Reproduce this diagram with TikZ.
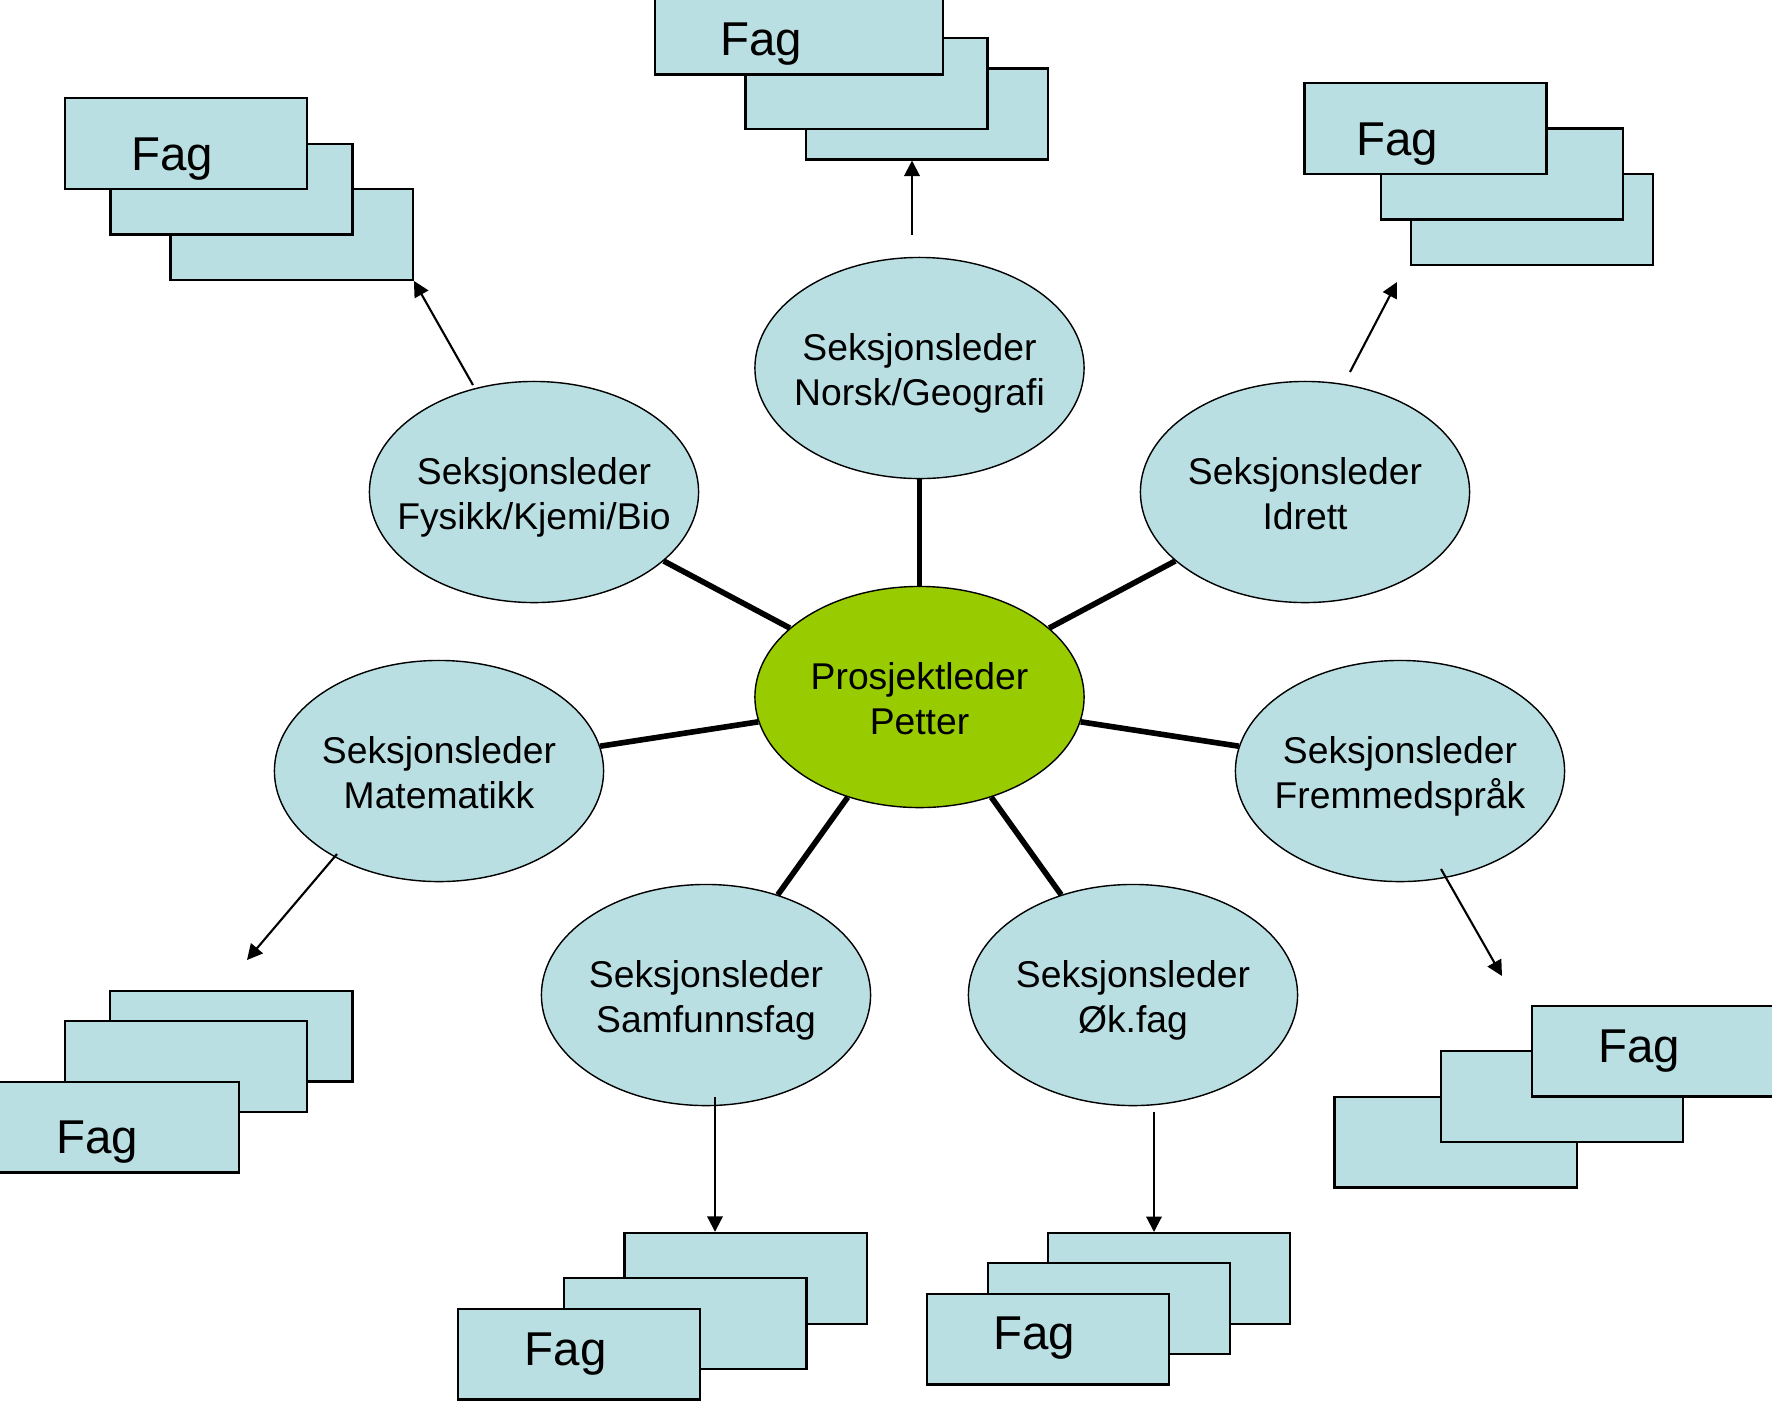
\documentclass[tikz,border=0pt]{standalone}
\usepackage{fontspec}
\setmainfont{Liberation Sans}
\usetikzlibrary{shapes.geometric, arrows.meta}
\definecolor{lyseblaa}{RGB}{186,223,227}
\definecolor{lysegronn}{RGB}{153,204,0}
\tikzset{
    leder/.style={
        ellipse, draw=black, line width=0.4pt,
        minimum width=3.29cm, minimum height=2.21cm,
        fill=lyseblaa, inner sep=0pt
    },
    ledertekst/.style={align=center, inner sep=0pt, yshift=-2.25pt,
        execute at end node={\strut}, font=\fontsize{10.6}{12.8}\selectfont},
    fagkort/.style={
        rectangle, draw=black, line width=0.65pt,
        minimum width=2.42cm, minimum height=0.907cm,
        fill=lyseblaa, inner sep=0pt
    },
    fagtekst/.style={anchor=base, inner sep=0pt, font=\fontsize{13.5}{16}\selectfont},
    eike/.style={draw=black, line width=1.6pt},
    pil/.style={draw=black, line width=0.6pt, -{Triangle[length=4.4pt, width=4.4pt]}}
}

\begin{document}
\begin{tikzpicture}[x=0.01cm, y=-0.01cm]
\useasboundingbox (0,0) rectangle (1772,1402);

% Prosjektleder
\node[leder, fill=lysegronn] (pl) at (919.5,697) {};
\node[ledertekst] (plt) at (pl) {Prosjektleder\\Petter};

% Seksjonsledere
\node[leder] (norsk) at (919.5,368) {};
\node[ledertekst] (norskt) at (norsk) {Seksjonsleder\\Norsk/Geografi};
\node[leder] (fys) at (534,492) {};
\node[ledertekst] (fyst) at (fys) {Seksjonsleder\\Fysikk/Kjemi/Bio};
\node[leder] (idr) at (1305,492) {};
\node[ledertekst] (idrt) at (idr) {Seksjonsleder\\Idrett};
\node[leder] (mat) at (439,771) {};
\node[ledertekst] (matt) at (mat) {Seksjonsleder\\Matematikk};
\node[leder] (frem) at (1400,771) {};
\node[ledertekst] (fremt) at (frem) {Seksjonsleder\\Fremmedspråk};
\node[leder] (samf) at (706,995) {};
\node[ledertekst] (samft) at (samf) {Seksjonsleder\\Samfunnsfag};
\node[leder] (ok) at (1133,995) {};
\node[ledertekst] (okt) at (ok) {Seksjonsleder\\Øk.fag};

\draw[eike] (pl) -- (norsk);
\draw[eike] (pl) -- (fys);
\draw[eike] (pl) -- (idr);
\draw[eike] (pl) -- (mat);
\draw[eike] (pl) -- (frem);
\draw[eike] (pl) -- (samf);
\draw[eike] (pl) -- (ok);

% Fag, oppe
\node[fagkort] (tb) at (927,114) {};
\node[fagkort] (tm) at (866.5,83.5) {};
\node[fagkort, minimum width=2.88cm] (tf) at (799,29) {};
\node[fagtekst] (tft) at (761,55) {Fag};

% Fag, oppe til venstre
\node[fagkort] (tlb) at (291.7,234.4) {};
\node[fagkort] (tlm) at (231.5,189.2) {};
\node[fagkort] (tlf) at (186,143.5) {};
\node[fagtekst] (tlft) at (172,170) {Fag};

% Fag, oppe til hoyre
\node[fagkort] (trb) at (1532,219.5) {};
\node[fagkort] (trm) at (1502,174) {};
\node[fagkort] (trf) at (1425.5,128.5) {};
\node[fagtekst] (trft) at (1397,155) {Fag};

% Fag, nede til venstre
\node[fagkort] (blb) at (231.3,1036.2) {};
\node[fagkort] (blm) at (185.8,1066.5) {};
\node[fagkort] (blf) at (118,1127) {};
\node[fagtekst] (blft) at (97,1153) {Fag};

% Fag, nede til hoyre
\node[fagkort] (brb) at (1455.7,1142) {};
\node[fagkort] (brm) at (1562,1096.7) {};
\node[fagkort] (brf) at (1653,1051) {};
\node[fagtekst] (brft) at (1639,1062) {Fag};

% Fag, samfunnsfag
\node[fagkort] (sb) at (745.7,1278.3) {};
\node[fagkort] (sm) at (685.3,1323.7) {};
\node[fagkort] (sf) at (579.2,1354) {};
\node[fagtekst] (sft) at (565.5,1365) {Fag};

% Fag, okonomi
\node[fagkort] (ob) at (1169,1278.5) {};
\node[fagkort] (om) at (1108.8,1308.7) {};
\node[fagkort] (of) at (1048,1339) {};
\node[fagtekst] (oft) at (1034,1349) {Fag};

% Piler
\coordinate (pnorsk) at (912,235);
\coordinate (pfys) at (473,385);
\coordinate (pidr) at (1350,372);
\coordinate (pidre) at (1397,282);
\coordinate (pmat) at (337,854);
\coordinate (pmate) at (247,960);
\coordinate (psamf) at (715,1097);
\coordinate (pok) at (1154,1112);
\coordinate (pfrem) at (1441,869);
\coordinate (pfreme) at (1502,976);

\draw[pil] (pnorsk) -- (pnorsk |- tb.south);
\draw[pil] (pfys) -- (tlb.south east);
\draw[pil] (pidr) -- (pidre);
\draw[pil] (pmat) -- (pmate);
\draw[pil] (psamf) -- (psamf |- sb.north);
\draw[pil] (pok) -- (pok |- ob.north);
\draw[pil] (pfrem) -- (pfreme);

\end{tikzpicture}
\end{document}
